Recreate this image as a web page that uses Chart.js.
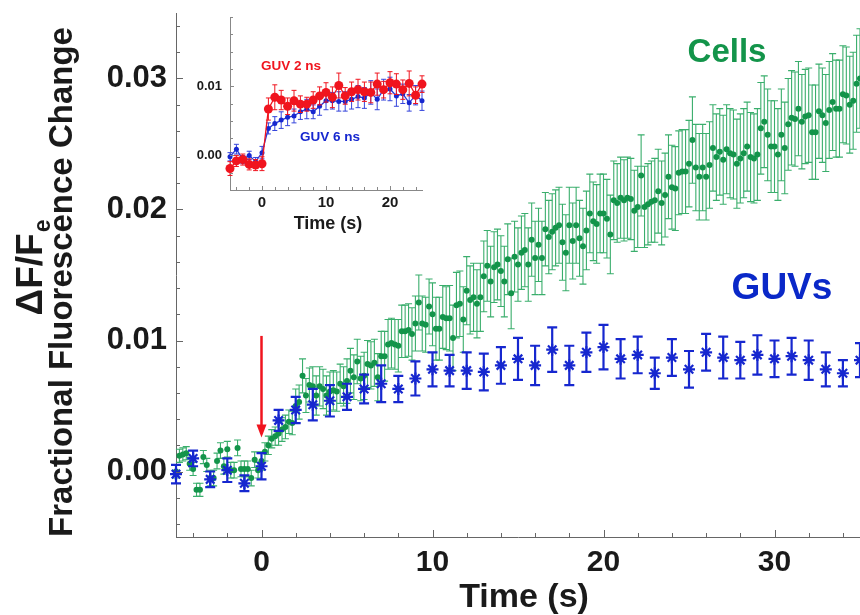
<!DOCTYPE html>
<html>
<head>
<meta charset="utf-8">
<script src="https://cdn.jsdelivr.net/npm/chart.js@4.4.1/dist/chart.umd.min.js"></script>
<style>
  html, body { margin: 0; padding: 0; background: #fff; }
  #wrap { position: relative; width: 860px; height: 615px; overflow: hidden; }
  #main { position: absolute; left: 0; top: 0; }
  #inset { position: absolute; left: 170px; top: 0; }
</style>
</head>
<body>
<div id="wrap">
  <canvas id="main" width="860" height="615"></canvas>
  <canvas id="inset" width="270" height="235"></canvas>
</div>
<script>
// ---- data ----
// Cells: sampled every 0.2 s from -5 s, one row per second
const cellsStart = -5;
const cellsStep = 0.2;
const cellsY = [
  0.0000, 0.0012, 0.0013, 0.0014, 0.0006,
  0.0002, -0.0014, -0.0014, 0.0011, 0.0005,
  -0.0005, -0.0005, 0.0008, 0.0016, 0.0004,
  0.0017, 0.0001, 0.0001, 0.0018, 0.0002,
  0.0002, 0.0002, -0.0005, 0.0009, 0.0001,
  0.0008, 0.0015, 0.0020, 0.0025, 0.0027,
  0.0029, 0.0032, 0.0034, 0.0038, 0.0037,
  0.0050, 0.0053, 0.0073, 0.0058, 0.0066,
  0.0065, 0.0058, 0.0065, 0.0063, 0.0058,
  0.0061, 0.0062, 0.0061, 0.0067, 0.0065,
  0.0069, 0.0077, 0.0072, 0.0084, 0.0071,
  0.0073, 0.0082, 0.0081, 0.0083, 0.0072,
  0.0088, 0.0088, 0.0097, 0.0098, 0.0097,
  0.0096, 0.0107, 0.0107, 0.0108, 0.0105,
  0.0113, 0.0129, 0.0113, 0.0112, 0.0126,
  0.0120, 0.0109, 0.0109, 0.0118, 0.0117,
  0.0117, 0.0102, 0.0127, 0.0128, 0.0116,
  0.0138, 0.0131, 0.0133, 0.0128, 0.0133,
  0.0149, 0.0157, 0.0145, 0.0156, 0.0158,
  0.0153, 0.0145, 0.0162, 0.0136, 0.0164,
  0.0158, 0.0167, 0.0169, 0.0158, 0.0177,
  0.0163, 0.0173, 0.0163, 0.0185, 0.0179,
  0.0183, 0.0186, 0.0188, 0.0175, 0.0167,
  0.0188, 0.0176, 0.0188, 0.0178, 0.0172,
  0.0184, 0.0197, 0.0191, 0.0189, 0.0197,
  0.0197, 0.0193, 0.0181, 0.0207, 0.0205,
  0.0209, 0.0207, 0.0209, 0.0208, 0.0199,
  0.0202, 0.0226, 0.0202, 0.0204, 0.0206,
  0.0207, 0.0214, 0.0205, 0.0211, 0.0225,
  0.0217, 0.0216, 0.0228, 0.0229, 0.0229,
  0.0235, 0.0253, 0.0232, 0.0225, 0.0232,
  0.0225, 0.0234, 0.0247, 0.0240, 0.0244,
  0.0238, 0.0246, 0.0243, 0.0242, 0.0235,
  0.0239, 0.0243, 0.0248, 0.0240, 0.0239,
  0.0242, 0.0262, 0.0267, 0.0257, 0.0248,
  0.0248, 0.0242, 0.0257, 0.0247, 0.0265,
  0.0270, 0.0269, 0.0277, 0.0267, 0.0271,
  0.0272, 0.0259, 0.0259, 0.0275, 0.0272,
  0.0266, 0.0276, 0.0282, 0.0277, 0.0277,
  0.0288, 0.0287, 0.0280, 0.0283, 0.0296,
  0.0300
];
// half-height of the Cells error bars, one value per second (-5 .. 35)
const cellsErr = [
  0.0005, 0.0005, 0.0006, 0.0006, 0.0006,
  0.0007, 0.0009, 0.0013, 0.0015, 0.0015,
  0.0017, 0.0018, 0.0019, 0.0020, 0.0021,
  0.0024, 0.0025, 0.0026, 0.0027, 0.0027,
  0.0028, 0.0028, 0.0029, 0.0029, 0.0030,
  0.0030, 0.0031, 0.0031, 0.0032, 0.0032,
  0.0033, 0.0033, 0.0034, 0.0034, 0.0035,
  0.0035, 0.0036, 0.0036, 0.0037, 0.0037,
  0.0038
];

// GUVs: one point per second
const guvTime = [-5, -4, -3, -2, -1, 0, 1, 2, 3, 4, 5, 6, 7, 8, 9, 10, 11, 12, 13, 14, 15,
  16, 17, 18, 19, 20, 21, 22, 23, 24, 25, 26, 27, 28, 29, 30, 31, 32, 33, 34, 35];
const guvY = [-0.0002, 0.0010, -0.0006, 0.0001, -0.0009, 0.0004, 0.0039, 0.0047, 0.0051, 0.0054, 0.0057,
  0.0063, 0.0067, 0.0063, 0.0071, 0.0078, 0.0077, 0.0077, 0.0076, 0.0081, 0.0086,
  0.0081, 0.0093, 0.0081, 0.0091, 0.0095, 0.0086, 0.0089, 0.0075, 0.0087, 0.0078,
  0.0091, 0.0087, 0.0085, 0.0089, 0.0086, 0.0088, 0.0085, 0.0078, 0.0075, 0.0085];
const guvErr = [0.0007, 0.0006, 0.0006, 0.0009, 0.0006, 0.0010, 0.0008, 0.0010, 0.0012, 0.0012, 0.0010,
  0.0011, 0.0014, 0.0010, 0.0013, 0.0013, 0.0012, 0.0014, 0.0014, 0.0014, 0.0016,
  0.0015, 0.0017, 0.0015, 0.0015, 0.0017, 0.0015, 0.0014, 0.0012, 0.0014, 0.0014,
  0.0014, 0.0016, 0.0014, 0.0015, 0.0014, 0.0014, 0.0015, 0.0013, 0.0010, 0.0013];

// inset: GUV 2 ns and GUV 6 ns
const insetTime = [-5, -4, -3, -2, -1, 0, 1, 2, 3, 4, 5, 6, 7, 8, 9, 10, 11, 12, 13, 14, 15,
  16, 17, 18, 19, 20, 21, 22, 23, 24, 25];
const guv2nsY = [-0.0019, -0.0008, -0.0006, -0.0013, -0.0014, -0.0012, 0.0067, 0.0084, 0.0080, 0.0071, 0.0079,
  0.0074, 0.0074, 0.0080, 0.0086, 0.0091, 0.0084, 0.0101, 0.0086, 0.0092, 0.0095,
  0.0092, 0.0091, 0.0103, 0.0095, 0.0105, 0.0103, 0.0095, 0.0104, 0.0087, 0.0103];
const guv2nsErr = [0.0010, 0.0008, 0.0008, 0.0008, 0.0008, 0.0010, 0.0016, 0.0018, 0.0014, 0.0012, 0.0015,
  0.0012, 0.0010, 0.0012, 0.0013, 0.0014, 0.0015, 0.0018, 0.0012, 0.0014, 0.0015,
  0.0014, 0.0015, 0.0016, 0.0012, 0.0016, 0.0015, 0.0014, 0.0018, 0.0012, 0.0012];
const guv6nsY = [-0.0002, 0.0009, -0.0006, 0.0000, -0.0009, 0.0004, 0.0039, 0.0046, 0.0051, 0.0055, 0.0057,
  0.0063, 0.0067, 0.0063, 0.0071, 0.0079, 0.0079, 0.0078, 0.0078, 0.0081, 0.0085,
  0.0083, 0.0091, 0.0081, 0.0095, 0.0096, 0.0086, 0.0089, 0.0076, 0.0087, 0.0079];
const guv6nsErr = [0.0006, 0.0007, 0.0006, 0.0006, 0.0006, 0.0009, 0.0008, 0.0010, 0.0012, 0.0012, 0.0010,
  0.0011, 0.0014, 0.0010, 0.0013, 0.0013, 0.0012, 0.0014, 0.0014, 0.0014, 0.0016,
  0.0015, 0.0017, 0.0015, 0.0015, 0.0017, 0.0015, 0.0014, 0.0012, 0.0014, 0.0014];

const xTicks = [0, 10, 20, 30];
const yTicks = [0, 0.01, 0.02, 0.03];
const insetXTicks = [0, 10, 20];
const insetYTicks = [0, 0.01];

const FONT = '"Liberation Sans", Arial, Helvetica, sans-serif';
const GREEN = '#13944a';
const GREEN_BAR = '#3aae6c';
const BLUE = '#1627cf';
const RED = '#f0141e';

const cellsTime = cellsY.map((_, i) => +(cellsStart + i * cellsStep).toFixed(1));
const toPts = (xs, ys) => xs.map((x, i) => ({ x: x, y: ys[i] }));

// ---- plugins ----
// error bars drawn just before each dataset so layering follows dataset order
const errorBars = {
  id: 'errorBars',
  beforeDatasetDraw(chart, args) {
    const ds = chart.data.datasets[args.index];
    if (!ds.errors) return;
    const xs = chart.scales.x, ys = chart.scales.y, ctx = chart.ctx;
    ctx.save();
    ctx.strokeStyle = ds.errColor;
    ctx.lineWidth = ds.errWidth;
    ds.data.forEach((p, i) => {
      const e = ds.errors[i];
      const px = xs.getPixelForValue(p.x);
      const top = ys.getPixelForValue(p.y + e);
      const bot = ys.getPixelForValue(p.y - e);
      ctx.beginPath();
      ctx.moveTo(px, top); ctx.lineTo(px, bot);
      ctx.moveTo(px - ds.cap, top); ctx.lineTo(px + ds.cap, top);
      ctx.moveTo(px - ds.cap, bot); ctx.lineTo(px + ds.cap, bot);
      ctx.stroke();
    });
    ctx.restore();
  }
};

// tick marks pointing into the plot
const innerTicks = {
  id: 'innerTicks',
  afterDraw(chart, args, o) {
    const { ctx, chartArea: a, scales: { x, y } } = chart;
    ctx.save();
    ctx.strokeStyle = o.color;
    ctx.lineWidth = 1;
    ctx.beginPath();
    for (let v = o.xFrom; v <= x.max + 1e-9; v += o.xStep) {
      const isMajor = o.xMajor.some(m => Math.abs(m - v) < 1e-9);
      const p = Math.round(x.getPixelForValue(v)) + 0.5;
      ctx.moveTo(p, a.bottom);
      ctx.lineTo(p, a.bottom - (isMajor ? o.major : o.minor));
    }
    for (let v = o.yFrom; v <= y.max + 1e-9; v += o.yStep) {
      const isMajor = o.yMajor.some(m => Math.abs(m - v) < 1e-9);
      const p = Math.round(y.getPixelForValue(v)) + 0.5;
      ctx.moveTo(a.left, p);
      ctx.lineTo(a.left + (isMajor ? o.major : o.minor), p);
    }
    ctx.stroke();
    ctx.restore();
  }
};

// axis titles, series labels and the stimulus arrow
const mainText = {
  id: 'mainText',
  afterDraw(chart) {
    const { ctx, scales: { x, y } } = chart;
    ctx.save();
    ctx.fillStyle = '#1a1a1a';
    ctx.textAlign = 'center';
    ctx.textBaseline = 'middle';
    ctx.font = 'bold 34px ' + FONT;
    ctx.fillText('Time (s)', 524, 598);

    ctx.save();
    ctx.translate(63, 282);
    ctx.rotate(-Math.PI / 2);
    ctx.font = 'bold 33px ' + FONT;
    ctx.fillText('Fractional Fluorescence Change', 0, 0);
    ctx.restore();

    ctx.save();
    ctx.translate(32, 268);
    ctx.rotate(-Math.PI / 2);
    ctx.font = 'bold 37px ' + FONT;
    const w1 = ctx.measureText('\u0394F/F').width;
    ctx.font = 'bold 23px ' + FONT;
    const w2 = ctx.measureText('e').width;
    const x0 = -(w1 + w2) / 2;
    ctx.textAlign = 'left';
    ctx.font = 'bold 37px ' + FONT;
    ctx.fillText('\u0394F/F', x0, 0);
    ctx.font = 'bold 23px ' + FONT;
    ctx.fillText('e', x0 + w1 + 1, 12);
    ctx.restore();

    ctx.font = 'bold 33px ' + FONT;
    ctx.fillStyle = GREEN;
    ctx.fillText('Cells', 727, 53);
    ctx.font = 'bold 37px ' + FONT;
    ctx.fillStyle = '#0a28c8';
    ctx.fillText('GUVs', 782, 289);

    // red arrow at t = 0
    const ax = x.getPixelForValue(0);
    const y1 = y.getPixelForValue(0.01035);
    const y2 = y.getPixelForValue(0.0026);
    ctx.strokeStyle = RED;
    ctx.fillStyle = RED;
    ctx.lineWidth = 2.5;
    ctx.beginPath();
    ctx.moveTo(ax, y1);
    ctx.lineTo(ax, y2 - 10);
    ctx.stroke();
    ctx.beginPath();
    ctx.moveTo(ax - 5, y2 - 13);
    ctx.lineTo(ax + 5, y2 - 13);
    ctx.lineTo(ax, y2);
    ctx.closePath();
    ctx.fill();
    ctx.restore();
  }
};

// ---- main chart ----
new Chart(document.getElementById('main').getContext('2d'), {
  type: 'scatter',
  data: {
    datasets: [
      {
        label: 'GUVs',
        data: toPts(guvTime, guvY),
        errors: guvErr, errColor: BLUE, errWidth: 2.2, cap: 5,
        pointStyle: 'star', pointRadius: 6, borderWidth: 2.2,
        borderColor: BLUE, backgroundColor: BLUE, clip: false
      },
      {
        label: 'Cells',
        data: toPts(cellsTime, cellsY),
        errors: cellsTime.map(t => cellsErr[Math.floor(t - cellsStart + 1e-6)]),
        errColor: GREEN_BAR, errWidth: 1.1, cap: 3.5,
        pointStyle: 'circle', pointRadius: 3, borderWidth: 0,
        backgroundColor: GREEN, borderColor: GREEN, clip: false
      }
    ]
  },
  options: {
    responsive: false,
    animation: false,
    events: [],
    layout: { autoPadding: false, padding: { top: 13, right: 0, left: 0, bottom: 0 } },
    plugins: {
      legend: { display: false },
      tooltip: { enabled: false },
      innerTicks: { color: '#666', xFrom: -4, xStep: 2, xMajor: xTicks,
        yFrom: -0.004, yStep: 0.002, yMajor: yTicks, major: 7, minor: 4 }
    },
    scales: {
      x: {
        type: 'linear', min: -5, max: 35,
        grid: { display: false, drawTicks: false },
        border: { display: true, color: '#666', width: 1 },
        afterBuildTicks: s => { s.ticks = xTicks.map(v => ({ value: v })); },
        afterFit: s => { s.height = 78; s.paddingLeft = 0; s.paddingRight = 0; },
        ticks: { color: '#1a1a1a', padding: 8, font: { family: FONT, size: 30, weight: 'bold' },
          maxRotation: 0, callback: v => String(v) }
      },
      y: {
        type: 'linear', min: -0.005, max: 0.035,
        grid: { display: false, drawTicks: false },
        border: { display: true, color: '#666', width: 1 },
        afterBuildTicks: s => { s.ticks = yTicks.map(v => ({ value: v })); },
        afterFit: s => { s.width = 176; s.paddingTop = 0; s.paddingBottom = 0; },
        ticks: { color: '#1a1a1a', padding: 9, font: { family: FONT, size: 31, weight: 'bold' },
          callback: v => v.toFixed(2) }
      }
    }
  },
  plugins: [errorBars, innerTicks, mainText]
});

// ---- inset ----
const insetText = {
  id: 'insetText',
  afterDraw(chart) {
    const ctx = chart.ctx;
    ctx.save();
    ctx.textBaseline = 'middle';
    ctx.textAlign = 'center';
    ctx.fillStyle = '#1a1a1a';
    ctx.font = 'bold 18px ' + FONT;
    ctx.fillText('Time (s)', 158, 224);
    ctx.textAlign = 'left';
    ctx.font = 'bold 13.5px ' + FONT;
    ctx.fillStyle = RED;
    ctx.fillText('GUV 2 ns', 91, 66);
    ctx.fillStyle = BLUE;
    ctx.fillText('GUV 6 ns', 130, 137);
    ctx.restore();
  }
};

new Chart(document.getElementById('inset').getContext('2d'), {
  type: 'scatter',
  data: {
    datasets: [
      {
        label: 'GUV 2 ns',
        data: toPts(insetTime, guv2nsY),
        errors: guv2nsErr, errColor: RED, errWidth: 1, cap: 2.5,
        showLine: true, borderColor: RED, borderWidth: 1.3,
        pointStyle: 'circle', pointRadius: 4.5, pointBorderWidth: 0,
        pointBackgroundColor: RED, clip: false
      },
      {
        label: 'GUV 6 ns',
        data: toPts(insetTime, guv6nsY),
        errors: guv6nsErr, errColor: '#3545dc', errWidth: 1, cap: 2.5,
        showLine: true, borderColor: '#2a3ad8', borderWidth: 1.3,
        pointStyle: 'circle', pointRadius: 2.5, pointBorderWidth: 0,
        pointBackgroundColor: BLUE, clip: false
      }
    ]
  },
  options: {
    responsive: false,
    animation: false,
    events: [],
    layout: { autoPadding: false, padding: { top: 17, right: 18, left: 0, bottom: 0 } },
    plugins: {
      legend: { display: false },
      tooltip: { enabled: false },
      innerTicks: { color: '#888', xFrom: -4, xStep: 2, xMajor: insetXTicks,
        yFrom: -0.0025, yStep: 0.0025, yMajor: insetYTicks, major: 4, minor: 3 }
    },
    scales: {
      x: {
        type: 'linear', min: -5, max: 25,
        grid: { display: false, drawTicks: false },
        border: { display: true, color: '#888', width: 1 },
        afterBuildTicks: s => { s.ticks = insetXTicks.map(v => ({ value: v })); },
        afterFit: s => { s.height = 45; s.paddingLeft = 0; s.paddingRight = 0; },
        ticks: { color: '#1a1a1a', padding: 4, font: { family: FONT, size: 15, weight: 'bold' },
          maxRotation: 0, callback: v => String(v) }
      },
      y: {
        type: 'linear', min: -0.005, max: 0.02,
        grid: { display: false, drawTicks: false },
        border: { display: true, color: '#888', width: 1 },
        afterBuildTicks: s => { s.ticks = insetYTicks.map(v => ({ value: v })); },
        afterFit: s => { s.width = 60; s.paddingTop = 0; s.paddingBottom = 0; },
        ticks: { color: '#1a1a1a', padding: 8, font: { family: FONT, size: 13, weight: 'bold' },
          callback: v => v.toFixed(2) }
      }
    }
  },
  plugins: [errorBars, innerTicks, insetText]
});
</script>
</body>
</html>
